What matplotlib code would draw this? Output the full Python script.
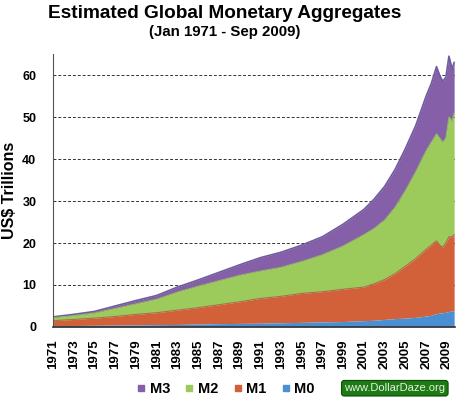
import matplotlib
matplotlib.use("Agg")
import matplotlib.pyplot as plt
from matplotlib.lines import Line2D
import numpy as np

plt.rcParams['font.family'] = ['Liberation Sans', 'DejaVu Sans']

# Time points (fractional years)
years = [1971, 1973, 1975, 1977, 1979, 1981, 1983, 1985, 1987, 1989, 1991,
         1993, 1995, 1997, 1999, 2001, 2002, 2003, 2004, 2005, 2006, 2007,
         2007.5, 2008, 2008.3, 2008.6, 2008.9, 2009.2, 2009.5, 2009.7]

# Cumulative (stacked) levels, US$ trillions
m0_top = [0.3, 0.35, 0.4, 0.45, 0.5, 0.55, 0.6, 0.7, 0.8, 0.85, 0.9,
          1.0, 1.1, 1.2, 1.3, 1.5, 1.6, 1.8, 2.0, 2.1, 2.3, 2.6,
          2.8, 3.2, 3.3, 3.4, 3.5, 3.7, 3.8, 3.8]
m1_top = [1.5, 1.8, 2.1, 2.5, 3.0, 3.4, 4.0, 4.6, 5.3, 6.0, 6.8,
          7.3, 8.0, 8.4, 9.0, 9.5, 10.3, 11.3, 12.7, 14.5, 16.3, 18.5,
          19.5, 20.5, 19.5, 19.0, 20.0, 21.5, 21.5, 22.0]
m2_top = [2.2, 2.7, 3.3, 4.4, 5.5, 6.6, 8.3, 9.7, 11.0, 12.3, 13.3,
          14.2, 15.6, 17.2, 19.3, 22.0, 23.5, 25.5, 28.5, 32.5, 37.0, 42.0,
          44.0, 46.0, 45.0, 44.0, 45.0, 50.0, 49.0, 51.0]
m3_top = [2.4, 3.0, 3.7, 5.0, 6.3, 7.5, 9.5, 11.2, 13.0, 14.8, 16.5,
          17.8, 19.5, 21.5, 24.5, 28.0, 30.5, 33.5, 37.5, 42.5, 48.0, 55.0,
          58.0, 62.0, 60.0, 58.5, 59.5, 64.5, 61.5, 63.0]

series_names = ["M3", "M2", "M1", "M0"]
series_colors = ["#8560A8", "#9CCB5C", "#D2613A", "#4A8FD2"]
year_ticks = list(range(1971, 2010, 2))
y_ticks = [0, 10, 20, 30, 40, 50, 60]

fig = plt.figure(figsize=(4.58, 3.99), dpi=100)
ax = fig.add_axes([0.1157, 0.1805, 0.877, 0.684])

x = np.array(years)
ax.fill_between(x, m2_top, m3_top, color=series_colors[0], lw=0)
ax.fill_between(x, m1_top, m2_top, color=series_colors[1], lw=0)
ax.fill_between(x, m0_top, m1_top, color=series_colors[2], lw=0)
ax.fill_between(x, 0, m0_top, color=series_colors[3], lw=0)
ax.plot(x, m3_top, color="#6E5C9C", lw=1.2)
ax.plot(x, m2_top, color="#8FB85A", lw=0.8)
ax.plot(x, m1_top, color="#A8704A", lw=0.8)

ax.set_xlim(1971, 2009.75)
ax.set_ylim(0, 65)
ax.set_xticks(year_ticks)
ax.set_xticklabels([str(y) for y in year_ticks], rotation=90,
                   fontsize=9.5, fontweight='bold')
ax.set_yticks(y_ticks)
ax.set_yticklabels([str(v) for v in y_ticks], fontsize=9, fontweight='bold')
ax.tick_params(axis='x', length=0, pad=9)
ax.tick_params(axis='y', length=0, pad=12)
for v in y_ticks[1:]:
    ax.axhline(v, color='#333333', lw=0.7, ls=(0, (3, 2)), zorder=0)
ax.spines['top'].set_visible(False)
ax.spines['right'].set_visible(False)
ax.spines['left'].set_color('#555555')
ax.spines['bottom'].set_color('#333333')
ax.spines['bottom'].set_linewidth(1.2)
ax.set_ylabel("US$ Trillions", fontsize=11.5, fontweight='bold', labelpad=4)

fig.text(0.49, 0.966, "Estimated Global Monetary Aggregates", ha='center',
         va='center', fontsize=13.7, fontweight='bold')
fig.text(0.49, 0.92, "(Jan 1971 - Sep 2009)", ha='center', va='center',
         fontsize=10.8, fontweight='bold')

handles = [Line2D([], [], marker='s', ls='', markersize=5,
                  markerfacecolor=c, markeredgecolor=c) for c in series_colors]
fig.legend(handles, series_names, loc='center', bbox_to_anchor=(0.49, 0.025),
           ncol=4, frameon=False, prop={'weight': 'bold', 'size': 10.5},
           handletextpad=0.1, columnspacing=0.8, handlelength=1.0)

fig.text(0.862, 0.027, "www.DollarDaze.org", ha='center', va='center',
         fontsize=8, color='#E8F0E8',
         bbox=dict(boxstyle='round,pad=0.25', fc='#1E7A12', ec='#0E4A08', lw=0.8))

fig.savefig("out.png", dpi=100)
